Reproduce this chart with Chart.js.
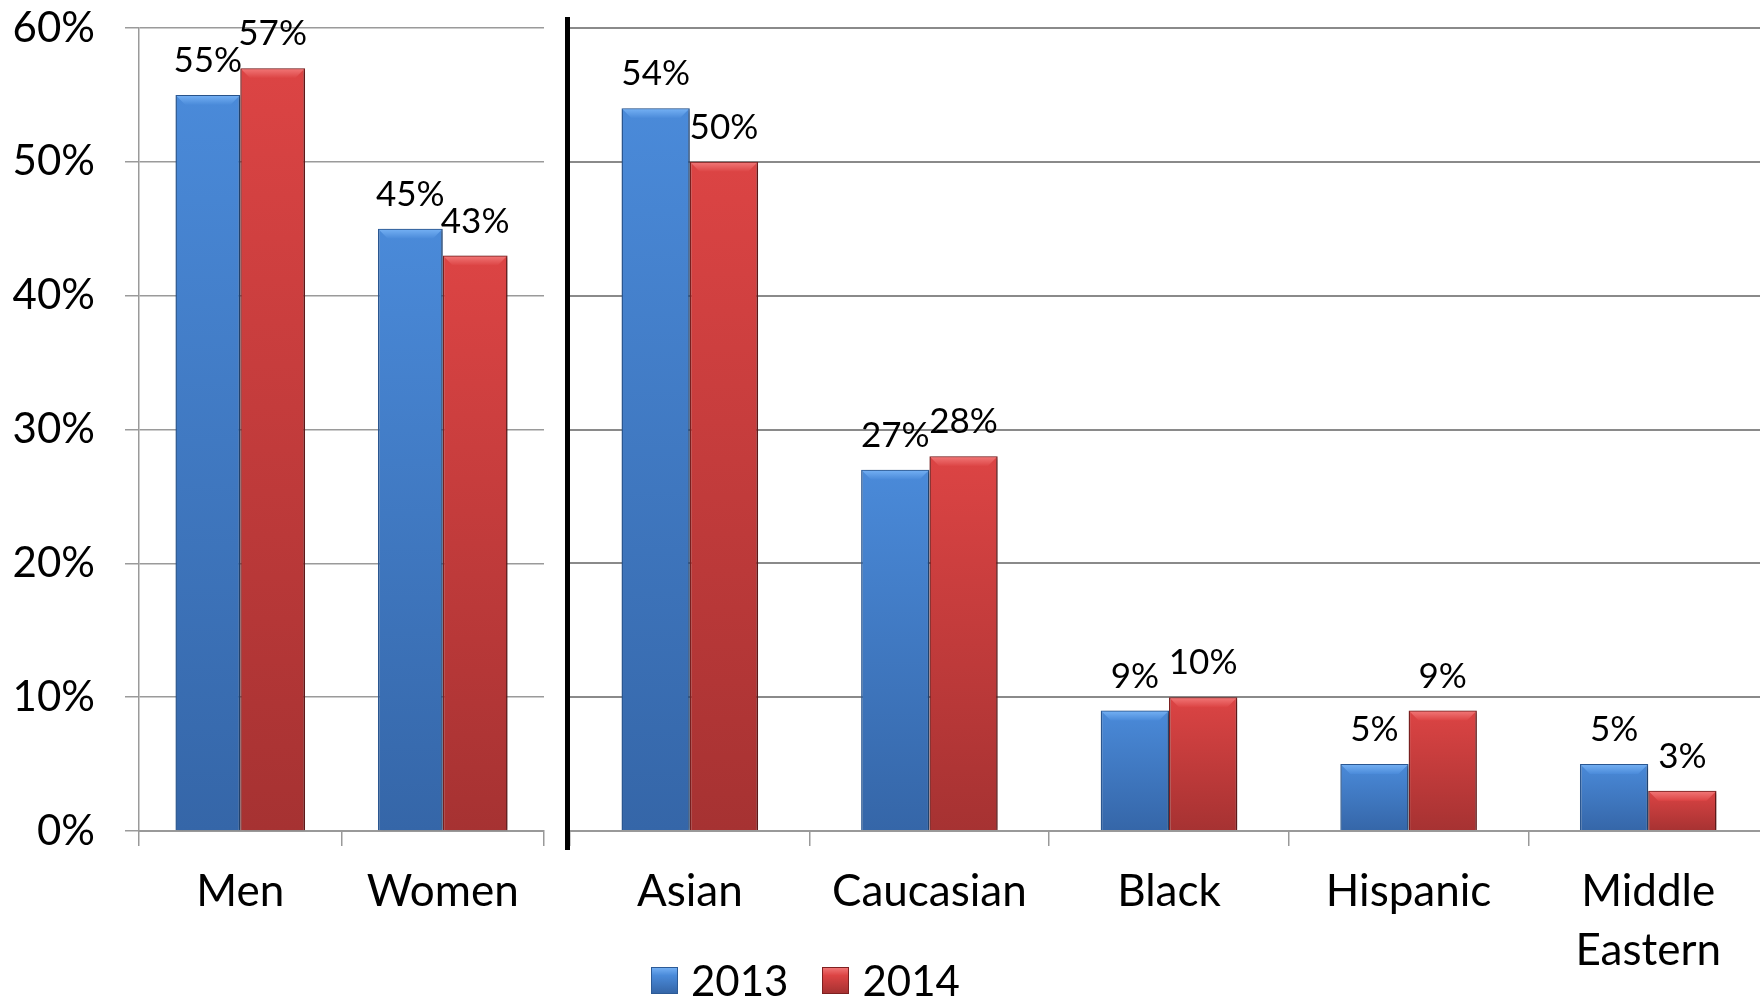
<!DOCTYPE html>
<html>
<head>
<meta charset="utf-8">
<title>Survey by gender and ethnicity, 2013 vs 2014</title>
<script src="https://cdn.jsdelivr.net/npm/chart.js@4.4.0/dist/chart.umd.min.js"></script>
<style>
  html, body { margin: 0; padding: 0; background: #fff; width: 1760px; height: 1000px; overflow: hidden; }
  #genderChart { position: absolute; left: 0; top: 0; }
  #groupChart { position: absolute; left: 540px; top: 0; }
  #legend { position: absolute; left: 651px; top: 955px; display: flex; align-items: center; font: 42px Lato, sans-serif; color: #000; }
  #legend .item { display: flex; align-items: center; margin-right: 34px; }
  #legend .swatch { width: 27px; height: 27px; margin-right: 13px; box-sizing: border-box; }
</style>
</head>
<body>
<canvas id="genderChart" width="560" height="1000"></canvas>
<canvas id="groupChart" width="1230" height="1000"></canvas>
<div id="legend"></div>
<script>
// series
const seriesNames = ['2013', '2014'];

// left panel: gender
const genderLabels = ['Men', 'Women'];
const gender2013 = [55, 45];
const gender2014 = [57, 43];

// right panel: ethnicity
const groupLabels = ['Asian', 'Caucasian', 'Black', 'Hispanic', ['Middle', 'Eastern']];
const group2013 = [54, 27, 9, 5, 5];
const group2014 = [50, 28, 10, 9, 3];

// y axis, in percent
const yMax = 60;
const yStep = 10;

const FONT = 'Lato, sans-serif';
const palette = [
  { top: '#4a8ad9', bottom: '#3566a8', bevel: '#72aef2', border: '#2c5a96' },
  { top: '#dc4444', bottom: '#a63232', bevel: '#f07474', border: '#7e2020' }
];

// vertical gradient running from each bar's top down to the baseline
function barFill(c) {
  return (ctx) => {
    const chart = ctx.chart;
    const area = chart.chartArea;
    if (!area || ctx.type !== 'data') return c.bottom;
    const y = chart.scales.y.getPixelForValue(ctx.raw);
    const g = chart.ctx.createLinearGradient(0, y, 0, area.bottom);
    g.addColorStop(0, c.top);
    g.addColorStop(1, c.bottom);
    return g;
  };
}

function makeDatasets(a, b, pct) {
  return [a, b].map((data, i) => ({
    label: seriesNames[i],
    data,
    backgroundColor: barFill(palette[i]),
    borderColor: palette[i].border,
    borderWidth: 1.5,
    categoryPercentage: pct,
    barPercentage: 1
  }));
}

// soft drop shadow behind the bars
const barShadow = {
  id: 'barShadow',
  beforeDatasetDraw(chart) {
    const ctx = chart.ctx;
    ctx.save();
    ctx.shadowColor = 'rgba(0,0,0,0.35)';
    ctx.shadowBlur = 4;
    ctx.shadowOffsetX = 2;
    ctx.shadowOffsetY = 1;
  },
  afterDatasetDraw(chart) {
    chart.ctx.restore();
  }
};

// bevelled top edge on each bar, then the value above it
const barTops = {
  id: 'barTops',
  afterDatasetsDraw(chart) {
    const ctx = chart.ctx;
    ctx.save();
    chart.data.datasets.forEach((ds, i) => {
      const c = palette[i];
      chart.getDatasetMeta(i).data.forEach((bar) => {
        const l = bar.x - bar.width / 2 + 1;
        const r = bar.x + bar.width / 2 - 1;
        const t = bar.y + 1;
        const b = 9;
        const g = ctx.createLinearGradient(0, t, 0, t + b);
        g.addColorStop(0, c.bevel);
        g.addColorStop(1, c.top);
        ctx.fillStyle = g;
        ctx.beginPath();
        ctx.moveTo(l, t);
        ctx.lineTo(r, t);
        ctx.lineTo(r - b, t + b);
        ctx.lineTo(l + b, t + b);
        ctx.closePath();
        ctx.fill();
      });
    });
    ctx.font = '35px ' + FONT;
    ctx.fillStyle = '#000';
    ctx.textAlign = 'center';
    ctx.textBaseline = 'alphabetic';
    chart.data.datasets.forEach((ds, i) => {
      chart.getDatasetMeta(i).data.forEach((bar, j) => {
        ctx.fillText(ds.data[j] + '%', bar.x, bar.y - 23);
      });
    });
    ctx.restore();
  }
};

// heavy black divider between the two panels
const divider = {
  id: 'divider',
  afterDraw(chart) {
    const { ctx, chartArea } = chart;
    ctx.save();
    ctx.fillStyle = '#000';
    ctx.fillRect(chartArea.left - 5, chartArea.top - 11, 5, chartArea.bottom - chartArea.top + 30);
    ctx.restore();
  }
};

function xScale() {
  return {
    grid: { offset: true, drawOnChartArea: false, tickLength: 15, color: '#999', lineWidth: 1.5 },
    border: { color: '#999', width: 2 },
    ticks: { color: '#000', font: { family: FONT, size: 44, lineHeight: 1.35 }, padding: 16, maxRotation: 0, autoSkip: false },
    afterFit: (s) => { s.height = 169; }
  };
}

const baseOptions = {
  responsive: false,
  animation: false,
  devicePixelRatio: 1,
  plugins: { legend: { display: false }, tooltip: { enabled: false } }
};

new Chart(document.getElementById('genderChart'), {
  type: 'bar',
  data: { labels: genderLabels, datasets: makeDatasets(gender2013, gender2014, 0.64) },
  options: {
    ...baseOptions,
    layout: { padding: { top: 28, right: 16, left: 0, bottom: 0 } },
    scales: {
      x: xScale(),
      y: {
        min: 0,
        max: yMax,
        ticks: { stepSize: yStep, callback: (v) => v + '%', color: '#000', font: { family: FONT, size: 42 }, padding: 30 },
        grid: { color: '#9a9a9a', lineWidth: 1.5, tickLength: 14 },
        border: { color: '#9a9a9a', width: 1.5 },
        // fixed axis width; the label padding must not push the plot area down
        afterFit: (s) => { s.width = 139; s.paddingTop = 0; s.paddingBottom = 0; }
      }
    }
  },
  plugins: [barShadow, barTops]
});

new Chart(document.getElementById('groupChart'), {
  type: 'bar',
  data: { labels: groupLabels, datasets: makeDatasets(group2013, group2014, 0.57) },
  options: {
    ...baseOptions,
    layout: { padding: { top: 28, right: 2, left: 30, bottom: 0 } },
    scales: {
      x: xScale(),
      y: {
        min: 0,
        max: yMax,
        ticks: { stepSize: yStep, display: false },
        grid: { color: '#8a8a8a', lineWidth: 2, drawTicks: false, tickLength: 0 },
        border: { display: false },
        afterFit: (s) => { s.width = 0; }
      }
    }
  },
  plugins: [barShadow, barTops, divider]
});

// legend built from the series names and bar colours
const legend = document.getElementById('legend');
seriesNames.forEach((name, i) => {
  const c = palette[i];
  const item = document.createElement('div');
  item.className = 'item';
  const sw = document.createElement('span');
  sw.className = 'swatch';
  sw.style.background = 'linear-gradient(' + c.bevel + ', ' + c.top + ' 30%, ' + c.bottom + ')';
  sw.style.border = '1.5px solid ' + c.border;
  const txt = document.createElement('span');
  txt.textContent = name;
  item.appendChild(sw);
  item.appendChild(txt);
  legend.appendChild(item);
});
</script>
</body>
</html>
